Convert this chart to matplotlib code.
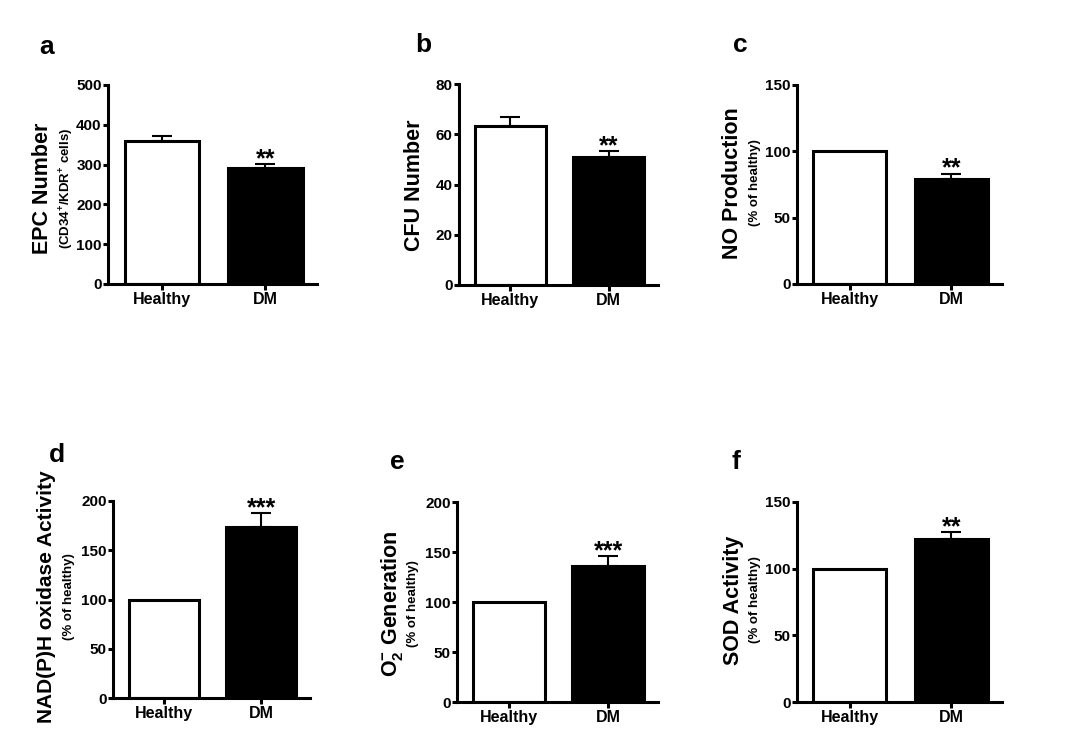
import matplotlib
matplotlib.use('Agg')
import matplotlib.pyplot as plt

plt.rcParams['font.family'] = ['Liberation Sans', 'DejaVu Sans']
plt.rcParams['font.weight'] = 'bold'
plt.rcParams['mathtext.fontset'] = 'custom'
plt.rcParams['mathtext.rm'] = 'Liberation Sans:bold'
plt.rcParams['mathtext.bf'] = 'Liberation Sans:bold'
plt.rcParams['mathtext.it'] = 'Liberation Sans:bold'

# data
groups = ['Healthy', 'DM']
epc_mean = [360, 291]
epc_err = [13, 10]
cfu_mean = [63.3, 50.8]
cfu_err = [3.4, 2.4]
no_mean = [100, 79.4]
no_err = [0, 3.8]
nadph_mean = [100, 173.5]
nadph_err = [0, 14]
o2_mean = [100, 136]
o2_err = [0, 10]
sod_mean = [100, 122]
sod_err = [0, 5.5]

stars = ['**', '**', '**', '***', '***', '**']
letters = ['a', 'b', 'c', 'd', 'e', 'f']
ylims = [500, 80, 150, 200, 200, 150]
ysteps = [100, 20, 50, 50, 50, 50]
main_labels = ['EPC Number', 'CFU Number', 'NO Production',
               'NAD(P)H oxidase Activity', 'O$_2^{-}$ Generation', 'SOD Activity']
sub_labels = ['(CD34$^{+}$/KDR$^{+}$ cells)', None, '(% of healthy)',
              '(% of healthy)', '(% of healthy)', '(% of healthy)']
means = [epc_mean, cfu_mean, no_mean, nadph_mean, o2_mean, sod_mean]
errs = [epc_err, cfu_err, no_err, nadph_err, o2_err, sod_err]

W, H = 1065, 754
fig = plt.figure(figsize=(W / 100, H / 100), dpi=100)

# axes boxes in pixels: left, right, top, bottom
boxes = [(108, 317, 85, 284), (459, 658, 84, 285), (797, 1002, 85, 284),
         (113, 310, 501, 698), (457, 658, 502, 702), (797, 1002, 502, 702)]
letter_pos = [(47, 47), (423, 45), (740, 45), (57, 455), (397, 462), (736, 462)]
# x centres of main / sub y labels, and vertical centre
label_pos = [(42, 67, 188), (415, None, 185), (733, 755, 183),
             (47, 69, 597), (392, 413, 604), (733, 755, 600)]
main_sizes = [15.5, 15.5, 15.5, 15, 15.5, 15.5]

lw = 2.2
for i in range(6):
    l, r, t, b = boxes[i]
    ax = fig.add_axes([l / W, 1 - b / H, (r - l) / W, (b - t) / H])
    x = [0, 1]
    ax.bar(x, means[i], width=0.72, color=['white', 'black'],
           edgecolor='black', linewidth=lw, zorder=2)
    for j in range(2):
        if errs[i][j] > 0:
            ax.errorbar(x[j], means[i][j], yerr=[[0], [errs[i][j]]],
                        fmt='none', ecolor='black', elinewidth=1.5,
                        capsize=7, capthick=1.5, zorder=1)
    top = means[i][1] + errs[i][1]
    ax.annotate(stars[i], (1, top), xytext=(0, -5), textcoords='offset points',
                ha='center', va='bottom', fontsize=18, fontweight='bold')
    ax.set_xlim(-0.52, 1.5)
    ax.set_ylim(0, ylims[i])
    ax.set_yticks(range(0, ylims[i] + 1, ysteps[i]))
    ax.set_xticks(x)
    ax.set_xticklabels(groups)
    for s in ['top', 'right']:
        ax.spines[s].set_visible(False)
    for s in ['left', 'bottom']:
        ax.spines[s].set_linewidth(lw)
    ax.tick_params(axis='y', width=lw, length=3.5, labelsize=11, pad=1)
    ax.tick_params(axis='x', width=lw, length=4, labelsize=11.5, pad=2)
    for lab in ax.get_xticklabels() + ax.get_yticklabels():
        lab.set_fontweight('bold')

    mx, sx, cy = label_pos[i]
    fig.text(mx / W, 1 - cy / H, main_labels[i], rotation=90, ha='center',
             va='center', fontsize=main_sizes[i], fontweight='bold')
    if sub_labels[i]:
        fig.text(sx / W, 1 - cy / H, sub_labels[i], rotation=90, ha='center',
                 va='center', fontsize=9.5, fontweight='bold')
    lx, ly = letter_pos[i]
    fig.text(lx / W, 1 - ly / H, letters[i], ha='center', va='center',
             fontsize=19, fontweight='bold')

fig.savefig('out.png', dpi=100)
